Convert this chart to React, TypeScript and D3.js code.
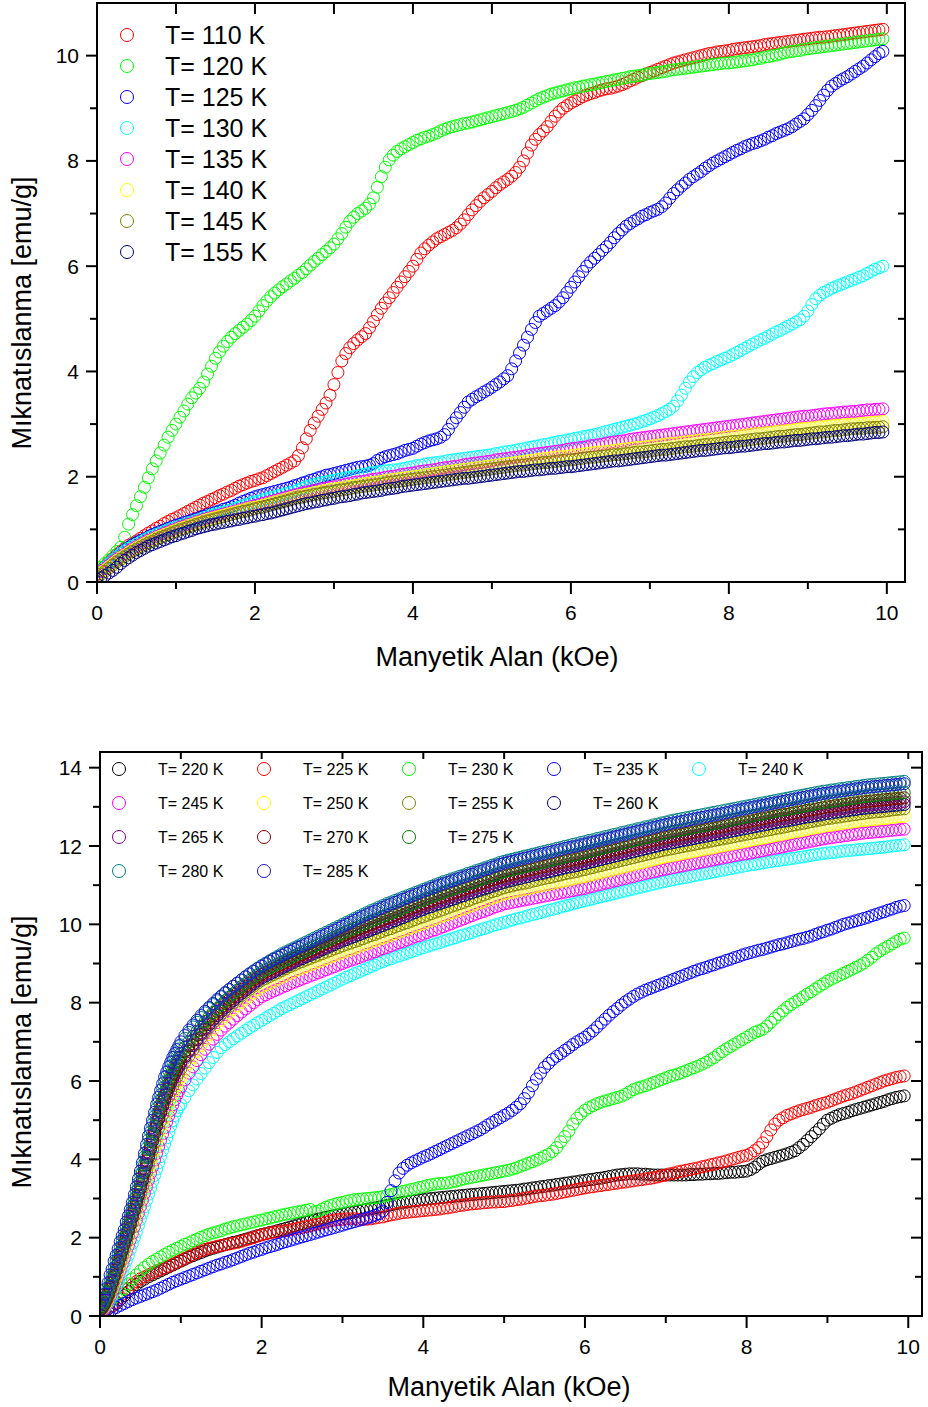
import React from 'react';
import * as d3 from 'd3';

// field grids in kOe: 0..9.95 by 0.05, and a finer start (0..0.975 by 0.025) for the steep high-T curves
const fieldA = d3.range(0, 200).map((i) => i / 20);
const fieldB = [...d3.range(0, 40).map((i) => i / 40), ...d3.range(20, 200).map((i) => i / 20)];

// ---- top panel, magnetisation (emu/g), on fieldA ----
const m110 = [
  0.15,0.22,0.3,0.38,0.45,0.52,0.58,0.64,0.7,0.74,
  0.78,0.83,0.88,0.93,0.97,1.02,1.06,1.11,1.15,1.19,
  1.22,1.26,1.3,1.34,1.38,1.42,1.46,1.5,1.53,1.57,
  1.6,1.64,1.67,1.71,1.74,1.78,1.82,1.85,1.88,1.91,
  1.93,1.96,1.98,2.02,2.06,2.1,2.14,2.18,2.22,2.26,
  2.3,2.4,2.55,2.72,2.88,3.02,3.15,3.28,3.4,3.55,
  3.75,3.98,4.2,4.34,4.45,4.53,4.6,4.66,4.72,4.83,
  4.95,5.08,5.2,5.3,5.4,5.5,5.6,5.7,5.8,5.9,
  6.0,6.13,6.25,6.33,6.4,6.46,6.52,6.56,6.6,6.64,
  6.68,6.73,6.8,6.88,6.98,7.07,7.15,7.23,7.3,7.36,
  7.42,7.49,7.55,7.6,7.65,7.71,7.78,7.88,8.0,8.15,
  8.3,8.41,8.5,8.57,8.65,8.75,8.85,8.93,9.0,9.05,
  9.1,9.14,9.18,9.22,9.25,9.28,9.3,9.33,9.35,9.37,
  9.38,9.4,9.42,9.45,9.48,9.52,9.55,9.59,9.62,9.65,
  9.68,9.71,9.74,9.77,9.8,9.83,9.86,9.88,9.9,9.92,
  9.94,9.96,9.98,10.0,10.02,10.04,10.05,10.07,10.08,10.09,
  10.1,10.12,10.13,10.14,10.15,10.16,10.17,10.18,10.19,10.21,
  10.22,10.23,10.24,10.25,10.26,10.27,10.28,10.29,10.3,10.31,
  10.32,10.33,10.34,10.35,10.35,10.36,10.37,10.38,10.39,10.4,
  10.41,10.42,10.43,10.44,10.45,10.46,10.47,10.48,10.49,10.5,
];
const m120 = [
  0.22,0.28,0.35,0.42,0.5,0.58,0.66,0.85,1.1,1.28,
  1.45,1.62,1.8,1.98,2.15,2.3,2.45,2.6,2.75,2.88,
  3.0,3.13,3.25,3.38,3.5,3.59,3.68,3.8,3.95,4.1,
  4.25,4.37,4.48,4.57,4.65,4.72,4.78,4.84,4.9,4.97,
  5.05,5.15,5.25,5.34,5.42,5.49,5.55,5.61,5.66,5.72,
  5.77,5.83,5.88,5.95,6.02,6.09,6.15,6.22,6.28,6.35,
  6.42,6.52,6.62,6.74,6.85,6.93,7.0,7.05,7.1,7.18,
  7.3,7.5,7.7,7.88,8.02,8.11,8.18,8.23,8.27,8.31,
  8.35,8.39,8.42,8.45,8.47,8.5,8.53,8.57,8.6,8.63,
  8.65,8.67,8.69,8.71,8.72,8.74,8.76,8.78,8.8,8.82,
  8.84,8.86,8.88,8.9,8.92,8.94,8.96,8.99,9.02,9.06,
  9.1,9.14,9.18,9.21,9.24,9.27,9.29,9.31,9.33,9.35,
  9.37,9.39,9.4,9.42,9.43,9.45,9.46,9.48,9.49,9.51,
  9.52,9.54,9.55,9.57,9.58,9.6,9.61,9.62,9.63,9.65,
  9.66,9.67,9.68,9.69,9.7,9.72,9.73,9.74,9.75,9.76,
  9.77,9.78,9.79,9.8,9.81,9.82,9.83,9.84,9.85,9.86,
  9.86,9.87,9.88,9.89,9.9,9.91,9.92,9.94,9.95,9.97,
  9.98,10.0,10.01,10.03,10.05,10.07,10.08,10.09,10.1,10.12,
  10.13,10.14,10.15,10.16,10.17,10.18,10.19,10.2,10.21,10.22,
  10.23,10.24,10.25,10.26,10.27,10.28,10.29,10.3,10.31,10.32,
];
const m125 = [
  0.12,0.2,0.28,0.35,0.42,0.49,0.55,0.61,0.66,0.71,
  0.75,0.79,0.82,0.86,0.9,0.93,0.96,0.99,1.02,1.05,
  1.08,1.1,1.13,1.15,1.18,1.2,1.23,1.25,1.28,1.3,
  1.33,1.35,1.38,1.4,1.43,1.46,1.5,1.53,1.56,1.59,
  1.62,1.64,1.66,1.68,1.7,1.72,1.74,1.76,1.78,1.8,
  1.83,1.85,1.88,1.9,1.93,1.95,1.98,2.0,2.03,2.04,
  2.06,2.08,2.1,2.12,2.14,2.16,2.18,2.19,2.2,2.22,
  2.25,2.31,2.35,2.38,2.4,2.42,2.44,2.47,2.5,2.52,
  2.54,2.58,2.62,2.65,2.68,2.7,2.72,2.75,2.8,2.9,
  3.02,3.12,3.22,3.32,3.42,3.47,3.52,3.56,3.61,3.65,
  3.7,3.75,3.8,3.86,3.92,4.05,4.2,4.35,4.5,4.65,
  4.8,4.93,5.05,5.1,5.15,5.2,5.25,5.32,5.4,5.5,
  5.6,5.7,5.8,5.9,6.0,6.08,6.15,6.22,6.3,6.37,
  6.45,6.54,6.62,6.69,6.76,6.81,6.86,6.9,6.95,6.98,
  7.02,7.05,7.08,7.13,7.2,7.29,7.38,7.45,7.52,7.58,
  7.65,7.7,7.75,7.8,7.86,7.91,7.96,8.0,8.04,8.08,
  8.12,8.16,8.2,8.23,8.27,8.3,8.33,8.35,8.38,8.41,
  8.45,8.48,8.52,8.55,8.58,8.61,8.65,8.7,8.75,8.8,
  8.88,8.96,9.05,9.15,9.25,9.34,9.42,9.47,9.52,9.56,
  9.6,9.65,9.7,9.75,9.8,9.86,9.92,9.98,10.04,10.08,
];
const m130 = [
  0.12,0.2,0.28,0.35,0.42,0.48,0.54,0.59,0.64,0.68,
  0.72,0.76,0.8,0.84,0.87,0.9,0.93,0.96,0.99,1.02,
  1.04,1.07,1.09,1.12,1.14,1.17,1.19,1.22,1.24,1.27,
  1.29,1.31,1.33,1.35,1.37,1.4,1.42,1.45,1.47,1.5,
  1.52,1.54,1.56,1.58,1.6,1.62,1.64,1.66,1.68,1.7,
  1.72,1.75,1.78,1.81,1.83,1.85,1.87,1.89,1.9,1.92,
  1.93,1.95,1.96,1.98,1.99,2.01,2.02,2.04,2.05,2.07,
  2.08,2.09,2.1,2.11,2.12,2.13,2.13,2.15,2.16,2.18,
  2.19,2.21,2.22,2.24,2.25,2.26,2.27,2.28,2.29,2.31,
  2.32,2.33,2.34,2.35,2.36,2.37,2.38,2.39,2.4,2.41,
  2.42,2.44,2.45,2.47,2.48,2.49,2.5,2.52,2.53,2.55,
  2.56,2.58,2.59,2.61,2.62,2.64,2.65,2.67,2.68,2.7,
  2.71,2.73,2.74,2.76,2.77,2.79,2.8,2.82,2.84,2.86,
  2.88,2.9,2.92,2.94,2.96,2.98,3.0,3.02,3.05,3.07,
  3.1,3.13,3.16,3.2,3.24,3.28,3.34,3.44,3.55,3.68,
  3.8,3.9,3.98,4.03,4.08,4.12,4.15,4.19,4.22,4.25,
  4.28,4.32,4.36,4.4,4.44,4.48,4.52,4.56,4.6,4.63,
  4.67,4.71,4.75,4.78,4.82,4.86,4.9,4.94,4.98,5.05,
  5.15,5.27,5.38,5.45,5.5,5.54,5.58,5.61,5.64,5.67,
  5.7,5.73,5.76,5.79,5.82,5.86,5.9,5.94,5.97,6.0,
];
const m135 = [
  0.14,0.2,0.25,0.31,0.37,0.43,0.48,0.53,0.58,0.63,
  0.67,0.71,0.75,0.79,0.82,0.86,0.89,0.92,0.95,0.98,
  1.01,1.04,1.06,1.09,1.11,1.14,1.16,1.19,1.21,1.23,
  1.25,1.27,1.29,1.31,1.33,1.35,1.37,1.39,1.41,1.43,
  1.45,1.47,1.49,1.51,1.53,1.55,1.57,1.59,1.61,1.63,
  1.65,1.67,1.69,1.71,1.72,1.74,1.75,1.77,1.78,1.8,
  1.81,1.83,1.84,1.86,1.87,1.89,1.9,1.91,1.92,1.94,
  1.95,1.96,1.97,1.99,2.0,2.01,2.02,2.04,2.05,2.06,
  2.07,2.09,2.1,2.11,2.12,2.13,2.14,2.16,2.17,2.18,
  2.19,2.2,2.21,2.23,2.24,2.25,2.26,2.27,2.28,2.29,
  2.3,2.32,2.33,2.34,2.35,2.36,2.37,2.38,2.39,2.41,
  2.42,2.43,2.44,2.45,2.46,2.47,2.48,2.49,2.5,2.52,
  2.53,2.54,2.55,2.56,2.57,2.59,2.6,2.61,2.62,2.64,
  2.65,2.66,2.67,2.68,2.69,2.71,2.72,2.73,2.74,2.75,
  2.76,2.77,2.78,2.79,2.8,2.81,2.82,2.83,2.84,2.85,
  2.86,2.87,2.88,2.89,2.9,2.91,2.92,2.93,2.94,2.95,
  2.96,2.97,2.98,2.99,3.0,3.01,3.02,3.03,3.04,3.05,
  3.06,3.07,3.08,3.09,3.1,3.11,3.12,3.13,3.14,3.15,
  3.15,3.16,3.17,3.18,3.19,3.2,3.2,3.21,3.22,3.23,
  3.23,3.24,3.24,3.25,3.26,3.27,3.27,3.28,3.28,3.29,
];
const m140 = [
  0.12,0.18,0.23,0.29,0.35,0.41,0.46,0.51,0.56,0.61,
  0.65,0.69,0.73,0.77,0.8,0.84,0.87,0.9,0.93,0.96,
  0.99,1.02,1.04,1.07,1.09,1.12,1.14,1.17,1.19,1.21,
  1.23,1.25,1.27,1.29,1.31,1.33,1.35,1.37,1.39,1.41,
  1.42,1.44,1.46,1.48,1.5,1.52,1.54,1.56,1.58,1.6,
  1.62,1.64,1.65,1.67,1.68,1.7,1.71,1.73,1.74,1.76,
  1.77,1.78,1.79,1.81,1.82,1.83,1.84,1.86,1.87,1.88,
  1.89,1.9,1.91,1.93,1.94,1.95,1.96,1.97,1.98,1.99,
  2.0,2.01,2.02,2.04,2.05,2.06,2.07,2.08,2.09,2.1,
  2.11,2.12,2.13,2.14,2.15,2.16,2.17,2.18,2.19,2.2,
  2.21,2.22,2.23,2.24,2.25,2.26,2.27,2.28,2.29,2.3,
  2.31,2.32,2.33,2.34,2.35,2.36,2.37,2.38,2.38,2.39,
  2.4,2.41,2.42,2.43,2.44,2.45,2.46,2.47,2.47,2.48,
  2.49,2.5,2.51,2.52,2.53,2.54,2.55,2.56,2.56,2.57,
  2.58,2.59,2.6,2.61,2.62,2.63,2.63,2.64,2.65,2.66,
  2.67,2.68,2.69,2.7,2.7,2.71,2.72,2.73,2.74,2.75,
  2.76,2.77,2.77,2.78,2.79,2.8,2.81,2.82,2.82,2.83,
  2.84,2.85,2.86,2.87,2.87,2.88,2.89,2.9,2.91,2.92,
  2.92,2.93,2.94,2.95,2.95,2.96,2.97,2.98,2.98,2.99,
  2.99,3.0,3.0,3.01,3.01,3.02,3.03,3.04,3.04,3.05,
];
const m145 = [
  0.1,0.15,0.2,0.26,0.32,0.38,0.43,0.48,0.53,0.58,
  0.62,0.66,0.7,0.74,0.77,0.81,0.84,0.87,0.9,0.93,
  0.96,0.99,1.01,1.04,1.06,1.09,1.11,1.14,1.16,1.18,
  1.2,1.22,1.24,1.26,1.28,1.3,1.32,1.34,1.35,1.37,
  1.39,1.41,1.42,1.44,1.46,1.48,1.5,1.52,1.54,1.56,
  1.58,1.6,1.61,1.63,1.64,1.66,1.67,1.69,1.7,1.71,
  1.72,1.74,1.75,1.76,1.77,1.79,1.8,1.81,1.82,1.83,
  1.84,1.85,1.86,1.88,1.89,1.9,1.91,1.92,1.93,1.94,
  1.95,1.96,1.97,1.98,1.99,2.0,2.01,2.02,2.03,2.04,
  2.05,2.06,2.07,2.08,2.09,2.1,2.11,2.12,2.13,2.14,
  2.15,2.16,2.17,2.18,2.19,2.2,2.21,2.22,2.22,2.23,
  2.24,2.25,2.26,2.27,2.27,2.28,2.29,2.3,2.31,2.32,
  2.32,2.33,2.34,2.35,2.36,2.37,2.37,2.38,2.39,2.4,
  2.41,2.42,2.42,2.43,2.44,2.45,2.46,2.47,2.47,2.48,
  2.49,2.5,2.51,2.52,2.52,2.53,2.54,2.55,2.56,2.57,
  2.57,2.58,2.59,2.6,2.61,2.62,2.62,2.63,2.64,2.65,
  2.66,2.67,2.67,2.68,2.69,2.7,2.71,2.72,2.72,2.73,
  2.74,2.75,2.76,2.77,2.77,2.78,2.79,2.8,2.8,2.81,
  2.82,2.83,2.84,2.85,2.85,2.86,2.87,2.88,2.88,2.89,
  2.9,2.91,2.91,2.92,2.92,2.93,2.93,2.94,2.94,2.95,
];
const m155 = [
  0.05,0.08,0.12,0.17,0.22,0.28,0.35,0.41,0.46,0.51,
  0.56,0.6,0.64,0.68,0.71,0.74,0.77,0.8,0.83,0.86,
  0.88,0.91,0.93,0.96,0.98,1.01,1.03,1.05,1.07,1.09,
  1.1,1.12,1.13,1.15,1.16,1.18,1.19,1.21,1.22,1.24,
  1.25,1.27,1.28,1.3,1.31,1.33,1.35,1.37,1.39,1.41,
  1.43,1.45,1.47,1.49,1.5,1.52,1.53,1.55,1.56,1.58,
  1.59,1.61,1.62,1.63,1.64,1.66,1.67,1.69,1.7,1.71,
  1.72,1.73,1.74,1.76,1.77,1.78,1.79,1.81,1.82,1.83,
  1.84,1.85,1.86,1.87,1.88,1.89,1.9,1.91,1.92,1.93,
  1.94,1.95,1.96,1.97,1.97,1.98,1.99,2.0,2.01,2.02,
  2.03,2.04,2.05,2.06,2.07,2.08,2.09,2.1,2.1,2.11,
  2.12,2.13,2.13,2.14,2.15,2.16,2.16,2.17,2.18,2.19,
  2.19,2.2,2.21,2.22,2.23,2.24,2.25,2.26,2.27,2.28,
  2.29,2.3,2.3,2.31,2.32,2.33,2.34,2.35,2.36,2.37,
  2.38,2.39,2.4,2.41,2.41,2.42,2.43,2.44,2.45,2.46,
  2.47,2.48,2.49,2.5,2.5,2.51,2.52,2.53,2.54,2.55,
  2.55,2.56,2.57,2.58,2.58,2.59,2.6,2.61,2.62,2.63,
  2.63,2.64,2.65,2.66,2.66,2.67,2.68,2.69,2.69,2.7,
  2.71,2.72,2.72,2.73,2.74,2.75,2.75,2.76,2.77,2.78,
  2.78,2.79,2.8,2.81,2.81,2.82,2.83,2.84,2.84,2.85,
];

// ---- bottom panel, low temperatures, on fieldA ----
const m220 = [
  0.08,0.12,0.18,0.25,0.32,0.42,0.52,0.62,0.72,0.8,
  0.88,0.94,1.0,1.05,1.1,1.15,1.2,1.25,1.3,1.35,
  1.4,1.45,1.5,1.54,1.58,1.62,1.66,1.7,1.73,1.76,
  1.79,1.82,1.85,1.88,1.9,1.93,1.96,1.99,2.02,2.05,
  2.08,2.1,2.13,2.15,2.18,2.21,2.24,2.27,2.3,2.33,
  2.36,2.39,2.42,2.45,2.47,2.5,2.52,2.54,2.56,2.58,
  2.6,2.62,2.64,2.66,2.68,2.7,2.72,2.74,2.76,2.78,
  2.8,2.82,2.84,2.86,2.88,2.9,2.91,2.93,2.94,2.96,
  2.97,2.99,3.0,3.01,3.02,3.03,3.04,3.05,3.06,3.07,
  3.08,3.09,3.1,3.11,3.12,3.13,3.14,3.15,3.16,3.17,
  3.18,3.19,3.2,3.21,3.22,3.24,3.25,3.27,3.28,3.3,
  3.31,3.33,3.34,3.36,3.37,3.39,3.4,3.42,3.43,3.45,
  3.46,3.48,3.49,3.51,3.52,3.54,3.56,3.58,3.6,3.61,
  3.62,3.63,3.63,3.63,3.62,3.62,3.61,3.6,3.6,3.6,
  3.6,3.6,3.6,3.6,3.6,3.6,3.61,3.61,3.62,3.62,
  3.63,3.63,3.64,3.64,3.65,3.66,3.67,3.67,3.68,3.69,
  3.7,3.74,3.8,3.88,3.95,3.99,4.02,4.05,4.08,4.11,
  4.14,4.18,4.22,4.3,4.38,4.48,4.58,4.68,4.78,4.9,
  5.0,5.05,5.1,5.14,5.17,5.2,5.24,5.27,5.3,5.33,
  5.36,5.39,5.42,5.45,5.48,5.52,5.55,5.58,5.6,5.62,
];
const m225 = [
  0.1,0.15,0.2,0.27,0.35,0.46,0.58,0.7,0.8,0.88,
  0.95,1.0,1.05,1.1,1.15,1.19,1.23,1.27,1.32,1.37,
  1.42,1.47,1.52,1.57,1.62,1.66,1.7,1.73,1.75,1.78,
  1.8,1.82,1.84,1.86,1.88,1.91,1.94,1.97,2.0,2.04,
  2.07,2.1,2.12,2.14,2.15,2.17,2.18,2.2,2.22,2.24,
  2.26,2.28,2.3,2.33,2.35,2.38,2.4,2.43,2.45,2.46,
  2.47,2.48,2.48,2.48,2.47,2.47,2.47,2.48,2.5,2.52,
  2.53,2.56,2.58,2.6,2.62,2.64,2.65,2.66,2.67,2.68,
  2.69,2.7,2.71,2.72,2.73,2.75,2.76,2.78,2.8,2.82,
  2.83,2.85,2.86,2.87,2.88,2.89,2.9,2.91,2.91,2.92,
  2.92,2.94,2.95,2.97,2.98,3.0,3.02,3.04,3.06,3.07,
  3.08,3.1,3.11,3.13,3.15,3.17,3.19,3.21,3.23,3.25,
  3.27,3.29,3.3,3.32,3.33,3.35,3.36,3.38,3.39,3.41,
  3.42,3.44,3.45,3.47,3.48,3.5,3.51,3.53,3.55,3.58,
  3.6,3.63,3.65,3.68,3.7,3.72,3.74,3.76,3.78,3.81,
  3.83,3.86,3.88,3.91,3.93,3.96,3.99,4.02,4.05,4.08,
  4.1,4.15,4.22,4.3,4.42,4.58,4.75,4.9,5.0,5.06,
  5.12,5.16,5.2,5.24,5.27,5.3,5.33,5.37,5.4,5.43,
  5.46,5.5,5.54,5.58,5.62,5.65,5.68,5.72,5.76,5.8,
  5.84,5.88,5.92,5.96,6.0,6.03,6.06,6.09,6.11,6.13,
];
const m230 = [
  0.25,0.3,0.35,0.42,0.5,0.6,0.7,0.82,0.95,1.05,
  1.15,1.24,1.32,1.39,1.45,1.51,1.57,1.63,1.68,1.73,
  1.78,1.83,1.87,1.92,1.96,2.01,2.05,2.09,2.12,2.15,
  2.18,2.22,2.25,2.28,2.3,2.33,2.35,2.38,2.4,2.43,
  2.45,2.48,2.5,2.53,2.55,2.58,2.6,2.62,2.64,2.66,
  2.68,2.7,2.72,2.66,2.68,2.73,2.78,2.82,2.85,2.88,
  2.9,2.93,2.95,2.97,2.98,2.99,3.0,3.01,3.02,3.03,
  3.05,3.08,3.1,3.13,3.15,3.18,3.2,3.23,3.25,3.28,
  3.3,3.33,3.35,3.37,3.38,3.39,3.4,3.42,3.44,3.47,
  3.5,3.52,3.54,3.56,3.58,3.6,3.62,3.64,3.66,3.68,
  3.7,3.72,3.75,3.78,3.82,3.86,3.9,3.94,3.98,4.03,
  4.08,4.13,4.2,4.3,4.45,4.58,4.72,4.9,5.05,5.16,
  5.25,5.32,5.37,5.42,5.46,5.49,5.52,5.55,5.58,5.61,
  5.66,5.72,5.78,5.82,5.85,5.88,5.92,5.96,6.0,6.04,
  6.08,6.12,6.15,6.18,6.22,6.26,6.3,6.34,6.38,6.43,
  6.48,6.54,6.6,6.68,6.75,6.82,6.88,6.94,7.0,7.06,
  7.12,7.18,7.24,7.28,7.32,7.4,7.5,7.6,7.7,7.79,
  7.88,7.95,8.02,8.08,8.15,8.22,8.28,8.35,8.42,8.48,
  8.55,8.6,8.65,8.7,8.75,8.8,8.85,8.9,8.95,9.01,
  9.08,9.16,9.25,9.32,9.38,9.44,9.5,9.56,9.62,9.65,
];
const m235 = [
  0.02,0.06,0.1,0.16,0.22,0.27,0.32,0.37,0.42,0.46,
  0.5,0.54,0.58,0.62,0.66,0.71,0.76,0.81,0.86,0.9,
  0.94,0.98,1.02,1.06,1.1,1.14,1.18,1.22,1.26,1.3,
  1.33,1.37,1.4,1.44,1.48,1.52,1.56,1.6,1.63,1.67,
  1.7,1.74,1.77,1.8,1.83,1.87,1.9,1.93,1.96,1.99,
  2.02,2.05,2.08,2.11,2.14,2.17,2.2,2.23,2.26,2.29,
  2.32,2.35,2.38,2.41,2.44,2.47,2.5,2.53,2.57,2.61,
  2.68,2.9,3.2,3.45,3.65,3.77,3.85,3.91,3.96,4.01,
  4.06,4.1,4.15,4.2,4.25,4.3,4.35,4.4,4.45,4.5,
  4.55,4.6,4.65,4.7,4.75,4.81,4.88,4.94,5.0,5.06,
  5.12,5.18,5.25,5.33,5.42,5.55,5.7,5.88,6.05,6.2,
  6.35,6.45,6.55,6.63,6.7,6.78,6.85,6.93,7.0,7.06,
  7.12,7.2,7.28,7.38,7.48,7.58,7.68,7.77,7.85,7.94,
  8.02,8.09,8.16,8.22,8.27,8.32,8.36,8.4,8.44,8.48,
  8.52,8.56,8.6,8.64,8.68,8.72,8.76,8.8,8.84,8.87,
  8.9,8.94,8.97,9.01,9.04,9.08,9.11,9.15,9.18,9.22,
  9.25,9.28,9.31,9.34,9.36,9.39,9.42,9.45,9.48,9.5,
  9.53,9.56,9.59,9.62,9.64,9.67,9.7,9.74,9.78,9.81,
  9.85,9.88,9.92,9.96,10.0,10.03,10.06,10.09,10.12,10.15,
  10.18,10.22,10.25,10.29,10.32,10.36,10.39,10.43,10.46,10.48,
];

// ---- bottom panel, high temperatures, on fieldB ----
const m240 = [
  0.1,0.13,0.18,0.25,0.33,0.42,0.52,0.63,0.75,0.87,
  1.0,1.13,1.27,1.41,1.55,1.7,1.85,2.0,2.15,2.31,
  2.47,2.63,2.79,2.95,3.11,3.27,3.43,3.59,3.75,3.91,
  4.07,4.23,4.39,4.55,4.7,4.85,4.99,5.12,5.24,5.33,
  5.4,5.58,5.75,5.9,6.05,6.19,6.33,6.47,6.6,6.73,
  6.85,6.93,7.0,7.08,7.15,7.22,7.29,7.36,7.42,7.49,
  7.55,7.61,7.67,7.73,7.79,7.85,7.9,7.95,8.0,8.05,
  8.1,8.15,8.2,8.25,8.3,8.35,8.4,8.45,8.5,8.55,
  8.6,8.65,8.69,8.74,8.78,8.83,8.87,8.92,8.96,9.01,
  9.05,9.09,9.12,9.16,9.19,9.23,9.26,9.3,9.33,9.37,
  9.4,9.44,9.47,9.5,9.53,9.57,9.6,9.63,9.66,9.7,
  9.73,9.76,9.79,9.83,9.86,9.89,9.92,9.96,9.99,10.02,
  10.05,10.08,10.11,10.14,10.16,10.19,10.22,10.25,10.27,10.3,
  10.33,10.36,10.38,10.41,10.44,10.47,10.49,10.52,10.55,10.58,
  10.6,10.63,10.65,10.68,10.7,10.73,10.75,10.78,10.8,10.83,
  10.85,10.88,10.9,10.93,10.95,10.98,11.0,11.03,11.05,11.08,
  11.1,11.12,11.14,11.16,11.18,11.2,11.22,11.24,11.26,11.28,
  11.3,11.32,11.34,11.36,11.38,11.4,11.42,11.44,11.46,11.48,
  11.5,11.52,11.53,11.55,11.57,11.59,11.6,11.62,11.63,11.65,
  11.66,11.68,11.69,11.71,11.72,11.74,11.76,11.78,11.79,11.81,
  11.82,11.83,11.84,11.86,11.87,11.88,11.89,11.9,11.91,11.92,
  11.93,11.94,11.95,11.96,11.97,11.98,12.0,12.01,12.02,12.03,
];
const m245 = [
  0.1,0.14,0.2,0.28,0.38,0.49,0.61,0.74,0.88,1.02,
  1.17,1.32,1.47,1.63,1.79,1.95,2.11,2.28,2.45,2.62,
  2.79,2.96,3.13,3.3,3.47,3.64,3.81,3.98,4.15,4.32,
  4.49,4.65,4.81,4.96,5.11,5.25,5.39,5.52,5.64,5.75,
  5.85,6.03,6.2,6.36,6.52,6.67,6.81,6.94,7.07,7.19,
  7.3,7.4,7.49,7.58,7.67,7.76,7.84,7.92,8.0,8.08,
  8.15,8.2,8.25,8.3,8.34,8.39,8.43,8.48,8.52,8.56,
  8.6,8.64,8.68,8.72,8.76,8.8,8.84,8.88,8.92,8.96,
  9.0,9.04,9.08,9.11,9.15,9.19,9.23,9.26,9.3,9.34,
  9.38,9.41,9.45,9.49,9.53,9.56,9.6,9.64,9.68,9.71,
  9.75,9.79,9.83,9.86,9.9,9.94,9.98,10.02,10.06,10.1,
  10.14,10.18,10.22,10.26,10.3,10.33,10.37,10.41,10.45,10.48,
  10.52,10.54,10.56,10.58,10.6,10.62,10.64,10.66,10.68,10.7,
  10.72,10.74,10.76,10.78,10.8,10.82,10.84,10.86,10.88,10.9,
  10.92,10.95,10.97,11.0,11.02,11.05,11.07,11.1,11.12,11.15,
  11.17,11.2,11.22,11.25,11.27,11.3,11.32,11.34,11.36,11.39,
  11.41,11.43,11.45,11.47,11.49,11.51,11.53,11.55,11.57,11.59,
  11.61,11.63,11.65,11.67,11.69,11.71,11.73,11.75,11.77,11.79,
  11.8,11.82,11.84,11.86,11.88,11.9,11.92,11.94,11.96,11.98,
  12.0,12.02,12.04,12.06,12.08,12.1,12.12,12.14,12.16,12.18,
  12.2,12.21,12.23,12.24,12.26,12.27,12.29,12.3,12.32,12.33,
  12.34,12.35,12.36,12.37,12.38,12.39,12.4,12.41,12.42,12.43,
];
const m250 = [
  0.12,0.16,0.22,0.31,0.42,0.54,0.68,0.82,0.97,1.12,
  1.27,1.43,1.59,1.75,1.92,2.09,2.26,2.43,2.6,2.78,
  2.96,3.14,3.32,3.5,3.68,3.86,4.04,4.22,4.4,4.57,
  4.74,4.9,5.06,5.21,5.36,5.5,5.64,5.77,5.89,6.0,
  6.1,6.28,6.44,6.6,6.76,6.91,7.06,7.19,7.32,7.44,
  7.55,7.65,7.74,7.83,7.92,8.01,8.09,8.17,8.25,8.33,
  8.4,8.45,8.5,8.55,8.6,8.65,8.7,8.75,8.79,8.84,
  8.88,8.92,8.96,9.0,9.04,9.08,9.12,9.16,9.2,9.24,
  9.28,9.32,9.35,9.39,9.43,9.47,9.5,9.54,9.58,9.62,
  9.65,9.69,9.72,9.76,9.8,9.84,9.87,9.91,9.95,9.99,
  10.02,10.06,10.1,10.14,10.18,10.22,10.25,10.29,10.33,10.37,
  10.4,10.44,10.48,10.52,10.55,10.59,10.63,10.67,10.7,10.74,
  10.78,10.8,10.82,10.85,10.87,10.89,10.91,10.94,10.96,10.98,
  11.0,11.02,11.04,11.07,11.09,11.11,11.13,11.16,11.18,11.2,
  11.22,11.25,11.27,11.3,11.32,11.35,11.37,11.4,11.42,11.45,
  11.47,11.5,11.52,11.55,11.57,11.6,11.62,11.65,11.67,11.7,
  11.72,11.74,11.76,11.78,11.8,11.82,11.84,11.86,11.88,11.9,
  11.92,11.94,11.96,11.98,12.0,12.02,12.04,12.06,12.08,12.1,
  12.12,12.14,12.16,12.18,12.2,12.22,12.24,12.26,12.28,12.3,
  12.32,12.34,12.36,12.38,12.4,12.42,12.44,12.46,12.48,12.5,
  12.52,12.53,12.55,12.56,12.58,12.59,12.61,12.62,12.64,12.65,
  12.66,12.67,12.68,12.69,12.7,12.71,12.73,12.74,12.75,12.76,
];
const m255 = [
  0.12,0.17,0.25,0.35,0.47,0.6,0.75,0.9,1.05,1.21,
  1.37,1.53,1.7,1.87,2.04,2.21,2.38,2.56,2.74,2.92,
  3.1,3.29,3.48,3.67,3.86,4.05,4.24,4.43,4.62,4.8,
  4.97,5.14,5.3,5.45,5.6,5.74,5.87,5.99,6.1,6.21,
  6.31,6.48,6.64,6.8,6.95,7.1,7.24,7.37,7.49,7.61,
  7.72,7.82,7.91,8.0,8.09,8.18,8.26,8.34,8.42,8.5,
  8.57,8.62,8.67,8.72,8.77,8.82,8.87,8.92,8.96,9.01,
  9.05,9.09,9.13,9.17,9.21,9.25,9.29,9.33,9.37,9.41,
  9.45,9.49,9.52,9.56,9.59,9.63,9.67,9.71,9.74,9.78,
  9.82,9.86,9.89,9.93,9.97,10.01,10.04,10.08,10.12,10.16,
  10.19,10.23,10.27,10.31,10.34,10.38,10.42,10.46,10.49,10.53,
  10.56,10.6,10.64,10.68,10.71,10.75,10.79,10.83,10.86,10.9,
  10.93,10.96,10.98,11.01,11.03,11.05,11.07,11.1,11.12,11.15,
  11.17,11.19,11.21,11.24,11.26,11.29,11.31,11.33,11.35,11.38,
  11.4,11.43,11.45,11.48,11.5,11.53,11.55,11.58,11.6,11.63,
  11.65,11.68,11.7,11.73,11.75,11.78,11.8,11.83,11.85,11.88,
  11.9,11.92,11.94,11.96,11.98,12.0,12.02,12.04,12.06,12.08,
  12.1,12.12,12.14,12.16,12.18,12.2,12.22,12.24,12.26,12.28,
  12.3,12.32,12.34,12.36,12.38,12.4,12.42,12.44,12.46,12.48,
  12.5,12.52,12.54,12.56,12.58,12.6,12.62,12.64,12.66,12.68,
  12.7,12.71,12.73,12.74,12.76,12.77,12.79,12.8,12.82,12.83,
  12.85,12.86,12.87,12.88,12.89,12.9,12.92,12.93,12.94,12.95,
];
const m260 = [
  0.15,0.2,0.29,0.4,0.53,0.68,0.84,1.0,1.16,1.33,
  1.5,1.67,1.84,2.0,2.17,2.34,2.52,2.7,2.88,3.07,
  3.26,3.46,3.66,3.86,4.06,4.26,4.46,4.65,4.84,5.02,
  5.19,5.36,5.52,5.67,5.81,5.94,6.06,6.17,6.27,6.37,
  6.46,6.62,6.76,6.91,7.05,7.19,7.32,7.44,7.56,7.67,
  7.78,7.88,7.97,8.06,8.15,8.24,8.32,8.4,8.48,8.56,
  8.63,8.68,8.73,8.78,8.83,8.88,8.93,8.98,9.03,9.08,
  9.12,9.17,9.21,9.26,9.3,9.35,9.39,9.44,9.48,9.53,
  9.57,9.61,9.65,9.69,9.73,9.77,9.81,9.85,9.89,9.93,
  9.97,10.01,10.05,10.09,10.13,10.17,10.21,10.26,10.3,10.34,
  10.38,10.42,10.45,10.49,10.52,10.56,10.59,10.63,10.66,10.7,
  10.73,10.77,10.8,10.84,10.87,10.9,10.93,10.97,11.0,11.04,
  11.07,11.1,11.12,11.15,11.17,11.2,11.22,11.25,11.27,11.29,
  11.31,11.34,11.36,11.39,11.41,11.44,11.46,11.48,11.5,11.53,
  11.55,11.58,11.6,11.63,11.65,11.68,11.7,11.73,11.75,11.78,
  11.8,11.83,11.85,11.88,11.9,11.93,11.95,11.98,12.0,12.03,
  12.05,12.07,12.09,12.11,12.13,12.15,12.17,12.19,12.21,12.23,
  12.25,12.27,12.29,12.31,12.33,12.35,12.37,12.39,12.41,12.43,
  12.45,12.47,12.49,12.51,12.53,12.55,12.57,12.59,12.61,12.63,
  12.64,12.66,12.68,12.7,12.72,12.74,12.75,12.77,12.79,12.81,
  12.83,12.84,12.86,12.87,12.89,12.9,12.92,12.93,12.95,12.96,
  12.97,12.98,12.99,13.0,13.01,13.02,13.03,13.04,13.05,13.06,
];
const m265 = [
  0.15,0.2,0.3,0.42,0.55,0.7,0.86,1.02,1.18,1.35,
  1.52,1.69,1.86,2.03,2.2,2.37,2.55,2.73,2.92,3.1,
  3.3,3.5,3.7,3.9,4.1,4.3,4.5,4.7,4.88,5.06,
  5.23,5.4,5.56,5.71,5.85,5.98,6.1,6.21,6.31,6.41,
  6.5,6.66,6.8,6.95,7.09,7.23,7.36,7.48,7.6,7.71,
  7.82,7.92,8.01,8.1,8.19,8.28,8.36,8.44,8.52,8.6,
  8.67,8.72,8.77,8.82,8.87,8.92,8.97,9.02,9.07,9.12,
  9.16,9.21,9.25,9.3,9.34,9.39,9.43,9.48,9.53,9.58,
  9.62,9.67,9.71,9.75,9.79,9.83,9.87,9.91,9.95,10.0,
  10.04,10.08,10.12,10.16,10.2,10.24,10.28,10.33,10.37,10.41,
  10.45,10.49,10.52,10.56,10.59,10.63,10.66,10.7,10.73,10.77,
  10.8,10.84,10.87,10.91,10.94,10.97,11.0,11.04,11.07,11.11,
  11.14,11.16,11.19,11.21,11.24,11.26,11.29,11.31,11.34,11.36,
  11.38,11.41,11.43,11.46,11.48,11.51,11.53,11.55,11.57,11.6,
  11.62,11.65,11.67,11.7,11.72,11.75,11.77,11.8,11.82,11.85,
  11.87,11.9,11.92,11.95,11.97,12.0,12.02,12.05,12.07,12.1,
  12.12,12.14,12.16,12.18,12.2,12.22,12.24,12.26,12.28,12.3,
  12.32,12.34,12.36,12.38,12.4,12.42,12.44,12.46,12.48,12.5,
  12.52,12.54,12.56,12.58,12.6,12.62,12.64,12.66,12.68,12.7,
  12.71,12.73,12.75,12.77,12.79,12.81,12.82,12.84,12.86,12.88,
  12.9,12.91,12.93,12.94,12.96,12.97,12.99,13.0,13.02,13.03,
  13.04,13.05,13.06,13.07,13.08,13.09,13.1,13.11,13.12,13.13,
];
const m270 = [
  0.2,0.24,0.33,0.45,0.58,0.73,0.9,1.05,1.22,1.39,
  1.56,1.73,1.9,2.07,2.24,2.42,2.6,2.78,2.97,3.16,
  3.36,3.56,3.76,3.96,4.16,4.36,4.56,4.76,4.95,5.13,
  5.31,5.48,5.64,5.79,5.93,6.06,6.18,6.3,6.41,6.51,
  6.6,6.76,6.9,7.04,7.18,7.31,7.44,7.56,7.67,7.78,
  7.88,7.98,8.07,8.16,8.25,8.34,8.42,8.5,8.58,8.65,
  8.72,8.78,8.83,8.88,8.93,8.98,9.03,9.08,9.13,9.18,
  9.22,9.27,9.31,9.36,9.4,9.45,9.5,9.55,9.6,9.65,
  9.69,9.74,9.78,9.83,9.87,9.91,9.95,9.99,10.03,10.07,
  10.11,10.15,10.19,10.24,10.28,10.32,10.36,10.41,10.45,10.49,
  10.53,10.57,10.61,10.65,10.68,10.72,10.75,10.79,10.82,10.86,
  10.89,10.93,10.96,11.0,11.03,11.07,11.1,11.14,11.17,11.21,
  11.24,11.26,11.29,11.31,11.34,11.36,11.39,11.41,11.44,11.46,
  11.48,11.51,11.53,11.56,11.58,11.61,11.63,11.65,11.67,11.7,
  11.72,11.75,11.77,11.8,11.82,11.85,11.87,11.9,11.92,11.95,
  11.97,12.0,12.02,12.05,12.07,12.1,12.12,12.15,12.17,12.2,
  12.22,12.24,12.26,12.28,12.3,12.32,12.34,12.36,12.38,12.4,
  12.42,12.44,12.46,12.48,12.5,12.52,12.54,12.56,12.58,12.6,
  12.62,12.64,12.66,12.68,12.7,12.72,12.74,12.76,12.78,12.8,
  12.81,12.83,12.85,12.87,12.89,12.91,12.92,12.94,12.96,12.98,
  13.0,13.01,13.03,13.04,13.06,13.07,13.09,13.1,13.12,13.13,
  13.14,13.15,13.16,13.17,13.18,13.19,13.2,13.21,13.22,13.23,
];
const m275 = [
  0.2,0.25,0.35,0.48,0.62,0.78,0.95,1.1,1.28,1.45,
  1.62,1.8,1.98,2.15,2.32,2.5,2.68,2.86,3.05,3.25,
  3.45,3.65,3.85,4.05,4.25,4.45,4.65,4.85,5.04,5.22,
  5.4,5.57,5.73,5.88,6.02,6.15,6.27,6.39,6.5,6.6,
  6.7,6.86,7.0,7.14,7.27,7.4,7.52,7.64,7.75,7.85,
  7.95,8.05,8.14,8.23,8.32,8.41,8.49,8.57,8.64,8.71,
  8.78,8.84,8.89,8.94,8.99,9.04,9.09,9.14,9.19,9.24,
  9.28,9.33,9.38,9.43,9.48,9.53,9.57,9.62,9.67,9.72,
  9.76,9.81,9.85,9.9,9.94,9.99,10.03,10.08,10.12,10.16,
  10.2,10.24,10.28,10.32,10.36,10.41,10.45,10.5,10.54,10.58,
  10.62,10.66,10.7,10.74,10.78,10.82,10.85,10.89,10.92,10.96,
  10.99,11.03,11.06,11.1,11.13,11.17,11.2,11.24,11.27,11.31,
  11.34,11.37,11.39,11.42,11.44,11.47,11.49,11.52,11.54,11.57,
  11.59,11.62,11.64,11.67,11.69,11.72,11.74,11.76,11.78,11.81,
  11.83,11.86,11.88,11.91,11.93,11.96,11.98,12.01,12.03,12.06,
  12.08,12.11,12.13,12.16,12.18,12.21,12.23,12.26,12.28,12.31,
  12.33,12.35,12.37,12.39,12.41,12.43,12.45,12.47,12.49,12.51,
  12.53,12.55,12.57,12.59,12.61,12.64,12.66,12.68,12.7,12.72,
  12.74,12.76,12.78,12.8,12.82,12.84,12.86,12.88,12.9,12.92,
  12.93,12.95,12.97,12.99,13.01,13.03,13.05,13.07,13.09,13.11,
  13.12,13.14,13.15,13.17,13.18,13.2,13.21,13.23,13.24,13.26,
  13.27,13.28,13.29,13.3,13.31,13.32,13.33,13.34,13.35,13.36,
];
const m280 = [
  0.3,0.35,0.45,0.58,0.72,0.88,1.05,1.22,1.4,1.58,
  1.75,1.92,2.1,2.28,2.45,2.62,2.8,3.0,3.2,3.4,
  3.62,3.84,4.06,4.28,4.5,4.7,4.9,5.1,5.3,5.48,
  5.65,5.82,5.98,6.12,6.26,6.39,6.5,6.61,6.72,6.82,
  6.92,7.09,7.24,7.38,7.5,7.62,7.74,7.85,7.95,8.05,
  8.15,8.24,8.33,8.42,8.5,8.58,8.66,8.74,8.81,8.88,
  8.95,9.01,9.07,9.13,9.19,9.25,9.3,9.35,9.4,9.45,
  9.5,9.55,9.6,9.65,9.7,9.75,9.8,9.85,9.9,9.95,
  10.0,10.05,10.1,10.15,10.2,10.25,10.3,10.35,10.39,10.44,
  10.48,10.53,10.57,10.61,10.65,10.69,10.73,10.77,10.81,10.85,
  10.89,10.93,10.97,11.01,11.05,11.09,11.12,11.16,11.19,11.23,
  11.26,11.3,11.33,11.37,11.4,11.44,11.47,11.51,11.54,11.58,
  11.61,11.64,11.66,11.69,11.71,11.74,11.76,11.79,11.81,11.84,
  11.86,11.89,11.91,11.94,11.96,11.99,12.01,12.04,12.06,12.09,
  12.11,12.14,12.16,12.19,12.21,12.24,12.26,12.29,12.31,12.34,
  12.36,12.39,12.41,12.44,12.46,12.49,12.51,12.54,12.56,12.59,
  12.61,12.64,12.66,12.68,12.7,12.72,12.74,12.76,12.78,12.8,
  12.82,12.84,12.86,12.88,12.9,12.92,12.94,12.96,12.98,13.0,
  13.02,13.04,13.06,13.08,13.1,13.12,13.14,13.16,13.18,13.2,
  13.22,13.24,13.26,13.28,13.3,13.32,13.34,13.36,13.38,13.4,
  13.41,13.43,13.44,13.46,13.47,13.49,13.5,13.52,13.53,13.55,
  13.56,13.57,13.58,13.59,13.6,13.61,13.62,13.63,13.64,13.65,
];
const m285 = [
  0.3,0.4,0.55,0.7,0.85,1.05,1.2,1.4,1.55,1.72,
  1.9,2.05,2.2,2.4,2.55,2.72,2.9,3.1,3.3,3.5,
  3.7,3.92,4.15,4.38,4.6,4.8,5.0,5.2,5.4,5.58,
  5.76,5.93,6.1,6.23,6.36,6.48,6.6,6.7,6.8,6.9,
  7.0,7.16,7.3,7.43,7.55,7.67,7.78,7.88,7.98,8.08,
  8.17,8.26,8.34,8.42,8.5,8.58,8.66,8.73,8.8,8.87,
  8.93,8.99,9.05,9.11,9.16,9.21,9.26,9.31,9.36,9.41,
  9.45,9.5,9.55,9.6,9.65,9.7,9.75,9.8,9.85,9.9,
  9.95,10.0,10.05,10.1,10.15,10.2,10.25,10.3,10.34,10.39,
  10.43,10.48,10.52,10.56,10.6,10.64,10.68,10.72,10.76,10.8,
  10.84,10.88,10.92,10.96,11.0,11.04,11.07,11.11,11.14,11.18,
  11.21,11.25,11.28,11.32,11.35,11.39,11.42,11.46,11.49,11.53,
  11.56,11.59,11.61,11.64,11.66,11.69,11.71,11.74,11.76,11.79,
  11.81,11.84,11.86,11.89,11.91,11.94,11.96,11.98,12.0,12.03,
  12.05,12.08,12.1,12.13,12.15,12.18,12.2,12.23,12.25,12.28,
  12.3,12.33,12.35,12.38,12.4,12.43,12.45,12.48,12.5,12.53,
  12.55,12.57,12.59,12.61,12.63,12.65,12.67,12.69,12.71,12.73,
  12.75,12.77,12.79,12.81,12.83,12.85,12.87,12.9,12.92,12.94,
  12.96,12.98,13.0,13.02,13.04,13.06,13.08,13.1,13.12,13.14,
  13.16,13.18,13.2,13.22,13.24,13.26,13.28,13.3,13.32,13.34,
  13.35,13.37,13.38,13.4,13.41,13.43,13.44,13.46,13.47,13.49,
  13.5,13.51,13.52,13.53,13.54,13.55,13.56,13.57,13.58,13.59,
];

const topSeries = [
  { label: 'T= 110 K', color: '#ff0000', field: fieldA, values: m110 },
  { label: 'T= 120 K', color: '#00ff00', field: fieldA, values: m120 },
  { label: 'T= 125 K', color: '#0000ff', field: fieldA, values: m125 },
  { label: 'T= 130 K', color: '#00ffff', field: fieldA, values: m130 },
  { label: 'T= 135 K', color: '#ff00ff', field: fieldA, values: m135 },
  { label: 'T= 140 K', color: '#ffff00', field: fieldA, values: m140 },
  { label: 'T= 145 K', color: '#808000', field: fieldA, values: m145 },
  { label: 'T= 155 K', color: '#000080', field: fieldA, values: m155 },
];

const bottomSeries = [
  { label: 'T= 220 K', color: '#000000', field: fieldA, values: m220 },
  { label: 'T= 225 K', color: '#ff0000', field: fieldA, values: m225 },
  { label: 'T= 230 K', color: '#00ff00', field: fieldA, values: m230 },
  { label: 'T= 235 K', color: '#0000ff', field: fieldA, values: m235 },
  { label: 'T= 240 K', color: '#00ffff', field: fieldB, values: m240 },
  { label: 'T= 245 K', color: '#ff00ff', field: fieldB, values: m245 },
  { label: 'T= 250 K', color: '#ffff00', field: fieldB, values: m250 },
  { label: 'T= 255 K', color: '#808000', field: fieldB, values: m255 },
  { label: 'T= 260 K', color: '#000080', field: fieldB, values: m260 },
  { label: 'T= 265 K', color: '#800080', field: fieldB, values: m265 },
  { label: 'T= 270 K', color: '#800000', field: fieldB, values: m270 },
  { label: 'T= 275 K', color: '#008000', field: fieldB, values: m275 },
  { label: 'T= 280 K', color: '#008080', field: fieldB, values: m280 },
  { label: 'T= 285 K', color: '#1a1acd', field: fieldB, values: m285 },
];

// legend rows of the lower panel, as laid out in the original
const bottomLegendRows = [
  ['T= 220 K', 'T= 225 K', 'T= 230 K', 'T= 235 K', 'T= 240 K'],
  ['T= 245 K', 'T= 250 K', 'T= 255 K', 'T= 260 K'],
  ['T= 265 K', 'T= 270 K', 'T= 275 K'],
  ['T= 280 K', 'T= 285 K'],
];

const xTickValues = [0, 2, 4, 6, 8, 10];
const xMinorValues = [1, 3, 5, 7, 9];
const yTopTicks = [0, 2, 4, 6, 8, 10];
const yTopMinor = [1, 3, 5, 7, 9];
const yBotTicks = [0, 2, 4, 6, 8, 10, 12, 14];
const yBotMinor = [1, 3, 5, 7, 9, 11, 13];

const FONT = '"Liberation Sans", Arial, Helvetica, sans-serif';
const yTitle = 'Mıknatıslanma [emu/g]';
const xTitle = 'Manyetik Alan (kOe)';

function Panel({ id, x, y, series, xMajor, xMinor, yMajor, yMinor, topTick }) {
  const [x0, x1] = x.range();
  const [yb, yt] = y.range();
  return (
    <g>
      <defs>
        <clipPath id={id}>
          <rect x={x0} y={yt} width={x1 - x0} height={yb - yt} />
        </clipPath>
      </defs>
      <g clipPath={`url(#${id})`}>
        {series.map((s) => (
          <g key={s.label}>
            {s.values.map((v, i) =>
              s.field[i] === undefined ? null : (
                <circle key={i} cx={x(s.field[i])} cy={y(v)} r={6} fill="none" stroke={s.color} strokeWidth={1} />
              )
            )}
          </g>
        ))}
      </g>
      <g stroke="#000" strokeWidth={2}>
        {xMajor.map((v) => (
          <g key={'xM' + v}>
            <line x1={x(v)} x2={x(v)} y1={yb} y2={yb + 12} />
            <line x1={x(v)} x2={x(v)} y1={yt} y2={yt + topTick} />
          </g>
        ))}
        {xMinor.map((v) => (
          <g key={'xm' + v}>
            <line x1={x(v)} x2={x(v)} y1={yb} y2={yb + 7} />
            <line x1={x(v)} x2={x(v)} y1={yt} y2={yt + topTick} />
          </g>
        ))}
        {yMajor.map((v) => (
          <g key={'yM' + v}>
            <line x1={x0 - 11} x2={x0} y1={y(v)} y2={y(v)} />
            <line x1={x1 - 11} x2={x1} y1={y(v)} y2={y(v)} />
          </g>
        ))}
        {yMinor.map((v) => (
          <g key={'ym' + v}>
            <line x1={x0 - 7} x2={x0} y1={y(v)} y2={y(v)} />
            <line x1={x1 - 7} x2={x1} y1={y(v)} y2={y(v)} />
          </g>
        ))}
        <rect x={x0} y={yt} width={x1 - x0} height={yb - yt} fill="none" />
      </g>
      <g fontFamily={FONT} fontSize={21} fill="#000">
        {xMajor.map((v) => (
          <text key={'xl' + v} x={x(v)} y={yb + 38} textAnchor="middle">{v}</text>
        ))}
        {yMajor.map((v) => (
          <text key={'yl' + v} x={x0 - 18} y={y(v)} dy="0.36em" textAnchor="end">{v}</text>
        ))}
      </g>
    </g>
  );
}

export default function App() {
  const xTop = d3.scaleLinear().domain([0, 10.23]).range([97, 905]);
  const yTop = d3.scaleLinear().domain([0, 11]).range([582, 3]);
  const xBot = d3.scaleLinear().domain([0, 10.17]).range([100, 922]);
  const yBot = d3.scaleLinear().domain([0, 14.4]).range([1316, 752]);

  return (
    <svg width={928} height={1407} style={{ position: 'absolute', left: 0, top: 0, background: '#fff' }}>
      <rect width={928} height={1407} fill="#fff" />
      <Panel id="clipTop" x={xTop} y={yTop} series={topSeries} xMajor={xTickValues} xMinor={xMinorValues}
        yMajor={yTopTicks} yMinor={yTopMinor} topTick={11} />
      <Panel id="clipBot" x={xBot} y={yBot} series={bottomSeries} xMajor={xTickValues} xMinor={xMinorValues}
        yMajor={yBotTicks} yMinor={yBotMinor} topTick={7} />

      {/* top legend */}
      <g fontFamily={FONT} fontSize={25}>
        {topSeries.map((s, i) => (
          <g key={s.label} transform={`translate(0, ${35 + i * 31})`}>
            <circle cx={127} cy={0} r={6.5} fill="none" stroke={s.color} strokeWidth={1} />
            <text x={165} y={0} dy="0.36em">{s.label}</text>
          </g>
        ))}
      </g>

      {/* bottom legend */}
      <g fontFamily={FONT} fontSize={16}>
        {bottomLegendRows.map((row, r) =>
          row.map((label, c) => {
            const s = bottomSeries.find((d) => d.label === label);
            return (
              <g key={label} transform={`translate(${119 + c * 145}, ${769 + r * 34})`}>
                <circle cx={0} cy={0} r={6.5} fill="none" stroke={s.color} strokeWidth={1} />
                <text x={39} y={0} dy="0.36em">{label}</text>
              </g>
            );
          })
        )}
      </g>

      {/* axis titles */}
      <g fontFamily={FONT} fontSize={27} fill="#000">
        <text x={497} y={666} textAnchor="middle">{xTitle}</text>
        <text transform="translate(31, 313) rotate(-90)" textAnchor="middle">{yTitle}</text>
        <text x={509} y={1396} textAnchor="middle">{xTitle}</text>
        <text transform="translate(31, 1052) rotate(-90)" textAnchor="middle">{yTitle}</text>
      </g>
    </svg>
  );
}
